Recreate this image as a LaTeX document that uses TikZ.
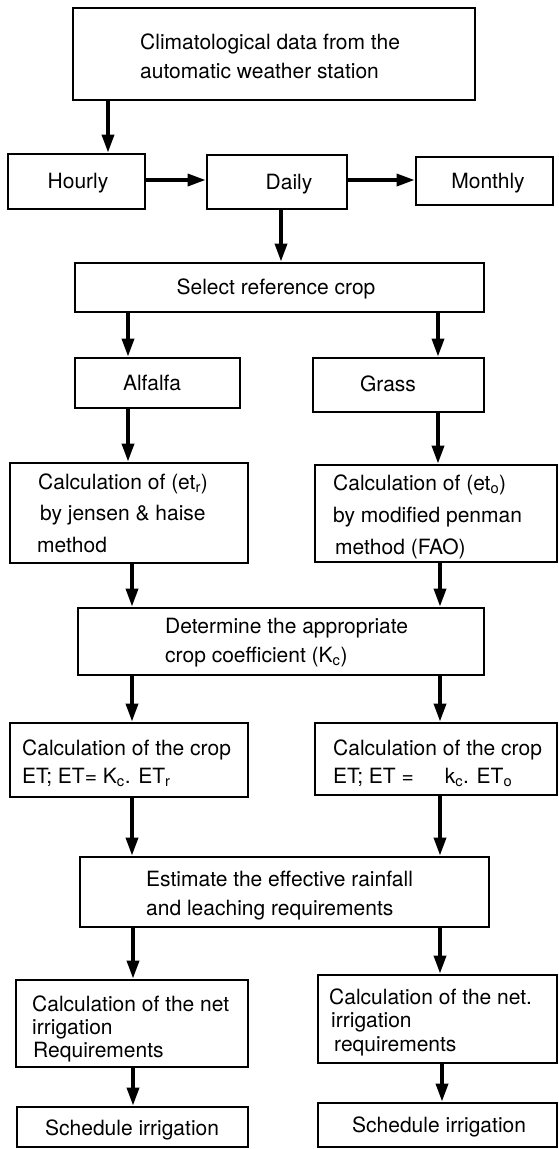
\documentclass[tikz,border=0pt]{standalone}
\usepackage{fontspec}
\setmainfont{TeX Gyre Heros}
\usetikzlibrary{arrows.meta}
\begin{document}
\begin{tikzpicture}[x=1pt,y=-1pt,
  box/.style={draw, line width=2.8pt, inner sep=0pt},
  txt/.style={inner sep=0pt, font=\fontsize{21}{25}\selectfont},
  tl/.style={txt, anchor=base west},
  tc/.style={txt, anchor=base},
  arr/.style={line width=3.5pt, -{Triangle[length=18pt,width=12pt]}}]
\useasboundingbox[fill=white] (0,0) rectangle (558,1149);

% boxes
\node[box, minimum width=402pt, minimum height=92pt] (top) at (274,54) {};
\node[box, minimum width=137pt, minimum height=55pt] (hourly) at (76.5,181.5) {};
\node[box, minimum width=140pt, minimum height=54pt] (daily) at (277,182) {};
\node[box, minimum width=137pt, minimum height=48pt] (monthly) at (484.5,181) {};
\node[box, minimum width=409pt, minimum height=49pt] (select) at (279.5,287.5) {};
\node[box, minimum width=165pt, minimum height=50pt] (alfalfa) at (157.5,383) {};
\node[box, minimum width=171pt, minimum height=54pt] (grass) at (398.5,385) {};
\node[box, minimum width=238pt, minimum height=100pt] (etr) at (129,513) {};
\node[box, minimum width=242pt, minimum height=97pt] (eto) at (436,513.5) {};
\node[box, minimum width=406pt, minimum height=67pt] (det) at (281,641.5) {};
\node[box, minimum width=238pt, minimum height=74pt] (cropL) at (129,760) {};
\node[box, minimum width=242pt, minimum height=72pt] (cropR) at (436,759) {};
\node[box, minimum width=409pt, minimum height=70pt] (est) at (284.5,892) {};
\node[box, minimum width=232pt, minimum height=87pt] (netL) at (132,1023.5) {};
\node[box, minimum width=239pt, minimum height=88pt] (netR) at (437.5,1019) {};
\node[box, minimum width=231pt, minimum height=40pt] (schedL) at (132.5,1127) {};
\node[box, minimum width=239pt, minimum height=44pt] (schedR) at (437.5,1125) {};

% texts
\node[tl] (top1) at (140,49.5) {Climatological data from the};
\node[tl] (top2) at (140,78.5) {automatic weather station};
\node[tc] (hourlyT) at (78,188.5) {Hourly};
\node[tc] (dailyT) at (289,189) {Daily};
\node[tc] (monthlyT) at (488,188.5) {Monthly};
\node[tc] (selectT) at (276,294.5) {Select reference crop};
\node[tc] (alfalfaT) at (152,390) {Alfalfa};
\node[tc] (grassT) at (388,391) {Grass};
\node[tl] (etr1) at (38,489.5) {Calculation of (et\textsubscript{r})};
\node[tl] (etr2) at (40,520.5) {by jensen \& haise};
\node[tl] (etr3) at (37,552.5) {method};
\node[tl] (eto1) at (333,490) {Calculation of (et\textsubscript{o})};
\node[tl] (eto2) at (333,522) {by modified penman};
\node[tl] (eto3) at (335,554) {method (FAO)};
\node[tl] (det1) at (165,633.5) {Determine the appropriate};
\node[tl] (det2) at (165,662.5) {crop coefficient (K\textsubscript{c})};
\node[tl] (cropL1) at (22,755.5) {Calculation of the crop};
\node[tl] (cropL2) at (22,783.5) {ET; ET= K\textsubscript{c}. ET\textsubscript{r}};
\node[tl] (cropR1) at (333,755.5) {Calculation of the crop};
\node[tl] (cropR2) at (333,783.5) {ET; ET = \hspace{25pt}k\textsubscript{c}. ET\textsubscript{o}};
\node[tl] (est1) at (146,886.5) {Estimate the effective rainfall};
\node[tl] (est2) at (146,915.5) {and leaching requirements};
\node[tl] (netL1) at (32,1011.5) {Calculation of the net};
\node[tl] (netL2) at (32,1034.5) {irrigation};
\node[tl] (netL3) at (33,1057.5) {Requirements};
\node[tl] (netR1) at (329,1004.5) {Calculation of the net.};
\node[tl] (netR2) at (331,1027.5) {irrigation};
\node[tl] (netR3) at (334,1051.5) {requirements};
\node[tl] (schedLT) at (45,1135.5) {Schedule irrigation};
\node[tl] (schedRT) at (352,1132.5) {Schedule irrigation};

% arrow columns
\coordinate (c0) at (108,0);
\coordinate (cD) at (281,0);
\coordinate (r1) at (0,180);
\coordinate (cL1) at (128,0);
\coordinate (cR1) at (438,0);
\coordinate (cL2) at (132,0);
\coordinate (cR2) at (440,0);
\coordinate (cL3) at (133,0);
\coordinate (cR3) at (442,0);

% arrows
\draw[arr] (top.south -| c0) -- (hourly.north -| c0);
\draw[arr] (hourly.east |- r1) -- (daily.west |- r1);
\draw[arr] (daily.east |- r1) -- (monthly.west |- r1);
\draw[arr] (daily.south -| cD) -- (select.north -| cD);
\draw[arr] (select.south -| cL1) -- (alfalfa.north -| cL1);
\draw[arr] (select.south -| cR1) -- (grass.north -| cR1);
\draw[arr] (alfalfa.south -| cL1) -- (etr.north -| cL1);
\draw[arr] (grass.south -| cR1) -- (eto.north -| cR1);
\draw[arr] (etr.south -| cL2) -- (det.north -| cL2);
\draw[arr] (eto.south -| cR2) -- (det.north -| cR2);
\draw[arr] (det.south -| cL2) -- (cropL.north -| cL2);
\draw[arr] (det.south -| cR2) -- (cropR.north -| cR2);
\draw[arr] (cropL.south -| cL2) -- (est.north -| cL2);
\draw[arr] (cropR.south -| cR2) -- (est.north -| cR2);
\draw[arr] (est.south -| cL3) -- (netL.north -| cL3);
\draw[arr] (est.south -| cR2) -- (netR.north -| cR2);
\draw[arr] (netL.south -| cL3) -- (schedL.north -| cL3);
\draw[arr] (netR.south -| cR3) -- (schedR.north -| cR3);
\end{tikzpicture}
\end{document}
